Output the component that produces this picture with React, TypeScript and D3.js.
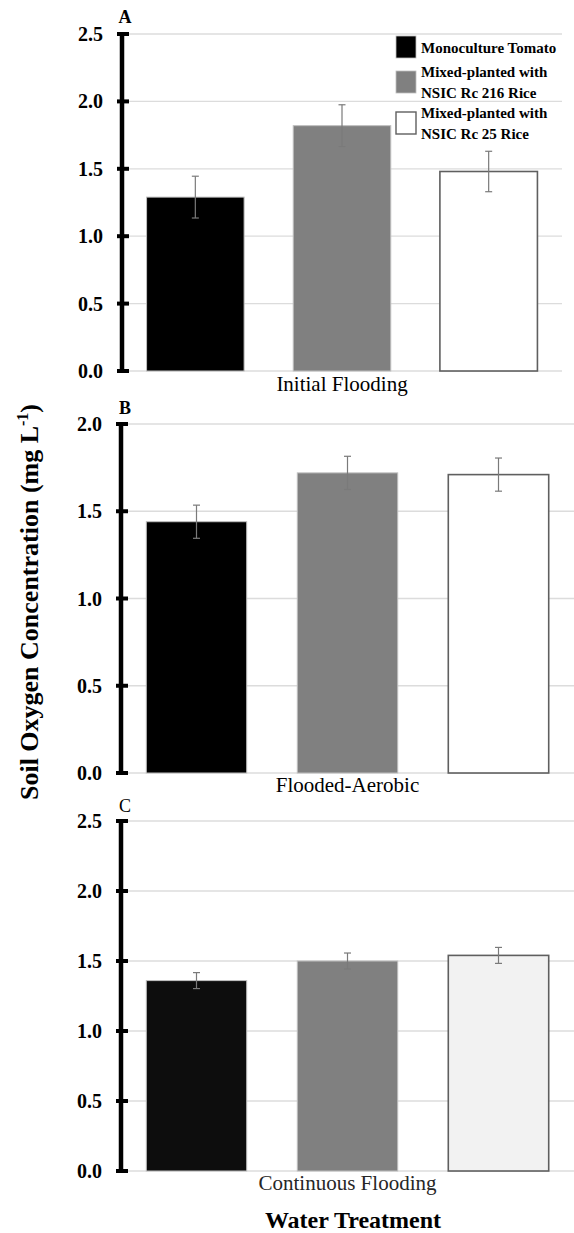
import { useEffect } from "react";
import * as d3 from "d3";

// Chart data
const treatments = ["Initial Flooding", "Flooded-Aerobic", "Continuous Flooding"];
const panelLetters = ["A", "B", "C"];
const seriesNames = ["Monoculture Tomato", "Mixed-planted with NSIC Rc 216 Rice", "Mixed-planted with NSIC Rc 25 Rice"];
const legendLines = [["Monoculture Tomato"], ["Mixed-planted with", "NSIC Rc 216 Rice"], ["Mixed-planted with", "NSIC Rc 25 Rice"]];

const initialFloodingMeans = [1.29, 1.82, 1.48];
const initialFloodingErrors = [0.155, 0.155, 0.15];
const floodedAerobicMeans = [1.44, 1.72, 1.71];
const floodedAerobicErrors = [0.095, 0.095, 0.095];
const continuousFloodingMeans = [1.36, 1.5, 1.54];
const continuousFloodingErrors = [0.057, 0.057, 0.057];

const ticksA = [0, 0.5, 1.0, 1.5, 2.0, 2.5];
const ticksB = [0, 0.5, 1.0, 1.5, 2.0];
const ticksC = [0, 0.5, 1.0, 1.5, 2.0, 2.5];

const W = 574;
const H = 1233;
const FONT = "'Liberation Serif', 'Times New Roman', Times, serif";

// bar colours per panel (panel C is a slightly different shade)
const fillsDefault = ["#000000", "#808080", "#ffffff"];
const fillsC = ["#0d0d0d", "#808080", "#f2f2f2"];
const strokes = ["#bfbfbf", "#bfbfbf", "#5f5f5f"];

const panels = [
  { means: initialFloodingMeans, errors: initialFloodingErrors, ticks: ticksA, fills: fillsDefault, bold: true,
    left: 122, right: 562, top: 34, bottom: 371, letterY: 23, labelY: 391 },
  { means: floodedAerobicMeans, errors: floodedAerobicErrors, ticks: ticksB, fills: fillsDefault, bold: true,
    left: 121, right: 574, top: 424, bottom: 773, letterY: 414, labelY: 792 },
  { means: continuousFloodingMeans, errors: continuousFloodingErrors, ticks: ticksC, fills: fillsC, bold: false,
    left: 121, right: 574, top: 821, bottom: 1171, letterY: 812, labelY: 1190 },
];

function Panel({ p, i }: { p: any; i: number }) {
  const x = d3.scaleBand<string>().domain(seriesNames).range([p.left, p.right]).paddingInner(0.335).paddingOuter(0.1675);
  const y = d3.scaleLinear().domain([0, d3.max(p.ticks as number[])!]).range([p.bottom, p.top]);
  const fmt = d3.format(".1f");
  const cap = 3.5;

  return (
    <g>
      {/* gridlines */}
      {p.ticks.map((t: number) => (
        <line key={"g" + t} x1={p.left + 2} x2={p.right} y1={y(t)} y2={y(t)} stroke="#dcdcdc" strokeWidth={1.3} />
      ))}
      {/* bars */}
      {seriesNames.map((s, k) => (
        <rect key={s} x={x(s)} y={y(p.means[k])} width={x.bandwidth()} height={y(0) - y(p.means[k])}
          fill={p.fills[k]} stroke={strokes[k]} strokeWidth={k === 2 ? 1.6 : 1} />
      ))}
      {/* error bars */}
      {seriesNames.map((s, k) => {
        const cx = x(s)! + x.bandwidth() / 2;
        const hi = y(p.means[k] + p.errors[k]);
        const lo = y(p.means[k] - p.errors[k]);
        return (
          <g key={"e" + s} stroke="#7a7a7a" strokeWidth={1.2}>
            <line x1={cx} x2={cx} y1={hi} y2={lo} />
            <line x1={cx - cap} x2={cx + cap} y1={hi} y2={hi} />
            <line x1={cx - cap} x2={cx + cap} y1={lo} y2={lo} />
          </g>
        );
      })}
      {/* y axis */}
      <line x1={p.left} x2={p.left} y1={y(d3.max(p.ticks as number[])!)} y2={y(0)} stroke="#000" strokeWidth={4.5} />
      {p.ticks.map((t: number) => (
        <g key={"t" + t}>
          <line x1={p.left - 5} x2={p.left + 7} y1={y(t)} y2={y(t)} stroke="#000" strokeWidth={4} />
          <text x={p.left - 19} y={y(t)} dy="0.35em" textAnchor="end" fontFamily={FONT} fontWeight="bold" fontSize={20}>
            {fmt(t)}
          </text>
        </g>
      ))}
      {/* panel letter */}
      <text x={125} y={p.letterY} textAnchor="middle" fontFamily={FONT} fontWeight={p.bold ? "bold" : "normal"} fontSize={18}>
        {panelLetters[i]}
      </text>
      {/* category label */}
      <text x={(p.left + p.right) / 2} y={p.labelY} textAnchor="middle" fontFamily={FONT} fontSize={21}
        fill={i === 2 ? "#262626" : "#000"}>
        {treatments[i]}
      </text>
    </g>
  );
}

function Legend() {
  const squareTops = [36, 71, 112];
  const swatch = ["#000000", "#808080", "#ffffff"];
  return (
    <g fontFamily={FONT} fontWeight="bold" fontSize={15}>
      {legendLines.map((lines, k) => {
        const cy = squareTops[k] + 11;
        return (
          <g key={k}>
            <rect x={396} y={squareTops[k]} width={20} height={22} fill={swatch[k]}
              stroke={k === 2 ? "#5f5f5f" : "#bfbfbf"} strokeWidth={k === 2 ? 1.4 : 0.8} />
            {lines.length === 1 ? (
              <text x={421} y={cy + 6}>{lines[0]}</text>
            ) : (
              lines.map((l, j) => (
                <text key={j} x={421} y={cy - 5 + j * 20.5}>{l}</text>
              ))
            )}
          </g>
        );
      })}
    </g>
  );
}

export default function App() {
  useEffect(() => {
    document.body.style.margin = "0";
  }, []);

  return (
    <svg width={W} height={H} viewBox={`0 0 ${W} ${H}`} style={{ display: "block", background: "#fff" }}>
      <rect width={W} height={H} fill="#fff" />
      {panels.map((p, i) => (
        <Panel key={i} p={p} i={i} />
      ))}
      <Legend />
      <text transform="translate(38,602) rotate(-90)" textAnchor="middle" fontFamily={FONT} fontWeight="bold" fontSize={26}>
        Soil Oxygen Concentration (mg L<tspan fontSize={16} dy={-10}>-1</tspan><tspan dy={10}>)</tspan>
      </text>
      <text x={353} y={1228} textAnchor="middle" fontFamily={FONT} fontWeight="bold" fontSize={24}>
        Water Treatment
      </text>
    </svg>
  );
}
